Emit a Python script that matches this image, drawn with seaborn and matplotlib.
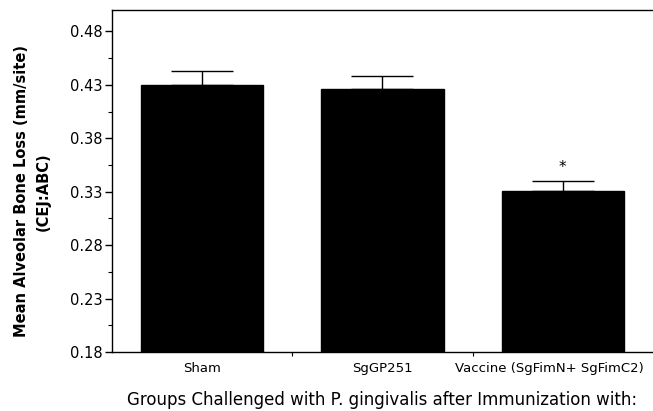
import matplotlib
matplotlib.use("Agg")
import matplotlib.pyplot as plt
import matplotlib.transforms as mtransforms
import seaborn as sns
import pandas as pd
from matplotlib.ticker import FixedLocator, FormatStrFormatter

groups = ["Sham", "SgGP251", "Vaccine (SgFimN+ SgFimC2)"]
bone_loss = [0.430, 0.426, 0.331]
sem = [0.0125, 0.012, 0.0094]
sig_marks = ["", "", "*"]

df = pd.DataFrame({"group": groups, "loss": bone_loss})

sns.set_style("ticks")
plt.rcParams["font.family"] = ["DejaVu Sans"]
plt.rcParams.update({"text.color": "black", "axes.labelcolor": "black",
                     "xtick.color": "black", "ytick.color": "black"})

fig = plt.figure(figsize=(6.53, 4.11), dpi=100)
ax = fig.add_axes([0.1715, 0.1436, 0.8285, 0.8321])

sns.barplot(data=df, x="group", y="loss", hue="group", palette=["black"] * 3,
            width=0.68, legend=False, ax=ax, edgecolor="black")
ax.errorbar(range(len(groups)), bone_loss, yerr=[[0] * 3, sem], fmt="none",
            ecolor="black", elinewidth=1, capsize=22, capthick=1)
for i, m in enumerate(sig_marks):
    if m:
        ax.text(i, bone_loss[i] + sem[i] + 0.012, m, ha="center", va="center", fontsize=11)

ax.set_xlim(-0.5, 2.5)
ax.set_ylim(0.18, 0.50)
ax.yaxis.set_major_locator(FixedLocator([0.18, 0.23, 0.28, 0.33, 0.38, 0.43, 0.48]))
ax.yaxis.set_minor_locator(FixedLocator([0.205, 0.255, 0.305, 0.355, 0.405, 0.455]))
ax.yaxis.set_major_formatter(FormatStrFormatter("%.2f"))
ax.xaxis.set_minor_locator(FixedLocator([0.5, 1.5]))
ax.tick_params(axis="y", which="major", length=5, width=1, labelsize=10.5, pad=2)
ax.tick_params(axis="y", which="minor", length=3, width=0.8)
ax.tick_params(axis="x", which="major", length=0, labelsize=9.5, pad=7)
ax.tick_params(axis="x", which="minor", length=3, width=0.8)

# long last label: nudge left so it stays inside the figure
lbl = ax.get_xticklabels()[2]
lbl.set_transform(lbl.get_transform() + mtransforms.ScaledTranslation(-13 / 100, 0, fig.dpi_scale_trans))

for side in ["left", "top", "bottom"]:
    ax.spines[side].set_visible(True)
    ax.spines[side].set_linewidth(1)
    ax.spines[side].set_color("black")
ax.spines["right"].set_visible(False)

ax.set_ylabel("Mean Alveolar Bone Loss (mm/site)\n(CEJ:ABC)", fontsize=10.5,
              fontweight="bold", linespacing=1.55)
ax.yaxis.set_label_coords(-0.113, 0.47)
ax.set_xlabel("Groups Challenged with P. gingivalis after Immunization with:",
              fontsize=12, labelpad=12)

fig.savefig("out.png", dpi=100)
